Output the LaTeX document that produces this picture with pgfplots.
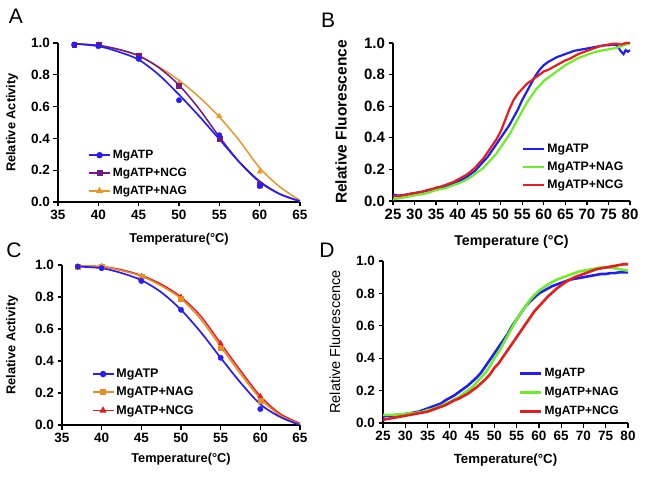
\documentclass[border=0pt]{standalone}
\usepackage{pgfplots}
\pgfplotsset{compat=1.18}
\usepackage{fontspec}
\setmainfont{Liberation Sans}
\definecolor{cblue}{RGB}{40,30,245}
\definecolor{cpurple}{RGB}{115,25,135}
\definecolor{corange}{RGB}{232,150,40}
\definecolor{corange2}{RGB}{232,140,35}
\definecolor{cred}{RGB}{228,30,30}
\definecolor{cgreen}{RGB}{110,238,40}
\definecolor{cbblue}{RGB}{30,30,245}
\begin{document}
\begin{tikzpicture}
\path (0pt,0pt) rectangle (645pt,477pt);
\pgfplotsset{
  myax/.style={scale only axis, axis x line*=bottom, axis y line*=left,
    axis line style={line width=1.4pt,-}, every tick/.style={line width=1.3pt,black},
    major tick length=4.5pt, tick align=outside, ymin=0, ymax=1,
    ytick={0,0.2,0.4,0.6,0.8,1.0},
    yticklabel style={/pgf/number format/fixed,/pgf/number format/fixed zerofill,/pgf/number format/precision=1},
    /pgf/number format/assume math mode=true,
    legend style={draw=none, fill=none, anchor=north west, row sep=4pt, inner sep=1pt},
    legend image code/.code={\draw[mark repeat=2,mark phase=2,##1] plot coordinates {(0cm,0cm)(0.37cm,0cm)(0.74cm,0cm)};},
    legend cell align=left, clip=false},
}
% ---------------- A ----------------
\begin{axis}[myax, at={(58pt,275pt)}, anchor=south west, width=242pt, height=159pt,
  xmin=35, xmax=65, xtick={35,40,45,50,55,60,65},
  ticklabel style={font=\bfseries\fontsize{13.5}{15}\selectfont},
  xlabel={Temperature(°C)}, ylabel={Relative Activity},
  label style={font=\bfseries\fontsize{12.8}{14}\selectfont},
  xlabel style={at={(axis description cs:0.5,-0.233)}, anchor=center},
  ylabel style={at={(axis description cs:-0.19,0.5)}, anchor=center},
  legend style={at={(axis description cs:0.12,0.345)}, font=\bfseries\fontsize{12}{14}\selectfont}]
\addlegendimage{cblue, line width=1.6pt, mark=*, mark size=2.4pt}
\addlegendentry{MgATP}
\addlegendimage{cpurple, line width=1.6pt, mark=square*, mark size=2.2pt}
\addlegendentry{MgATP+NCG}
\addlegendimage{corange, line width=1.6pt, mark=triangle*, mark size=2.6pt}
\addlegendentry{MgATP+NAG}
\addplot[corange, line width=1.5pt, smooth, forget plot] coordinates {(37,0.995)(40,0.985)(42.5,0.96)(45,0.92)(47.5,0.85)(50,0.765)(52.5,0.66)(55,0.535)(57.5,0.385)(60,0.215)(62.5,0.095)(65,0.01)};
\addplot[cpurple, line width=1.5pt, smooth, forget plot] coordinates {(37,0.995)(40,0.985)(42.5,0.96)(45,0.92)(47.5,0.845)(50,0.735)(52.5,0.585)(55,0.41)(57.5,0.25)(60,0.125)(62.5,0.05)(65,0.005)};
\addplot[cblue, line width=1.7pt, smooth, forget plot] coordinates {(37,0.995)(40,0.98)(42.5,0.945)(45,0.895)(47.5,0.80)(50,0.675)(52.5,0.54)(55,0.395)(57.5,0.25)(60,0.13)(62.5,0.05)(65,0.005)};
\addplot[only marks, corange, mark=triangle*, mark size=3pt, forget plot] coordinates {(37,0.99)(40,0.99)(45,0.92)(50,0.75)(55,0.54)(60,0.19)};
\addplot[only marks, cpurple, mark=square*, mark size=2.4pt, forget plot] coordinates {(37,0.99)(40,0.99)(45,0.92)(50,0.73)(55,0.40)(60,0.11)};
\addplot[only marks, cblue, mark=*, mark size=2.7pt, forget plot] coordinates {(37,0.99)(40,0.98)(45,0.90)(50,0.64)(55,0.42)(60,0.10)};
\end{axis}
% ---------------- B ----------------
\begin{axis}[myax, at={(393pt,276pt)}, anchor=south west, width=237pt, height=158pt,
  xmin=25, xmax=80, xtick={25,30,...,80},
  ticklabel style={font=\bfseries\fontsize{15}{16}\selectfont},
  xlabel={Temperature (°C)}, ylabel={Relative Fluorescence},
  xlabel style={font=\bfseries\fontsize{14.2}{16}\selectfont, at={(axis description cs:0.5,-0.26)}, anchor=center},
  ylabel style={font=\bfseries\fontsize{15.5}{17}\selectfont, at={(axis description cs:-0.219,0.5)}, anchor=center},
  legend style={at={(axis description cs:0.54,0.38)}, font=\bfseries\fontsize{12.3}{13}\selectfont, row sep=4pt}]
\addplot[cbblue, line width=2.2pt] coordinates {(25,0.04)(26,0.035)(27,0.036)(28,0.04)(29,0.046)(30,0.05)(31,0.055)(32,0.06)(33,0.066)(34,0.07)(35,0.08)(36,0.084)(37,0.09)(38,0.10)(39,0.11)(40,0.12)(41,0.135)(42,0.15)(43,0.17)(44,0.19)(45,0.22)(46,0.25)(47,0.28)(48,0.32)(49,0.36)(50,0.40)(51,0.44)(52,0.48)(53,0.53)(54,0.58)(55,0.64)(56,0.69)(57,0.74)(58,0.79)(59,0.83)(60,0.86)(61,0.88)(62,0.895)(63,0.91)(64,0.92)(65,0.93)(66,0.94)(67,0.95)(68,0.955)(69,0.96)(70,0.965)(71,0.97)(72,0.975)(73,0.98)(74,0.985)(75,0.985)(76,0.99)(77,0.985)(77.8,0.95)(78.5,0.93)(79,0.955)(79.5,0.945)(80,0.955)};
\addlegendentry{MgATP}
\addplot[cgreen, line width=2.2pt] coordinates {(25,0.01)(26,0.015)(27,0.02)(28,0.025)(29,0.03)(30,0.035)(31,0.04)(32,0.045)(33,0.05)(34,0.06)(35,0.07)(36,0.075)(37,0.08)(38,0.09)(39,0.10)(40,0.11)(41,0.12)(42,0.135)(43,0.15)(44,0.17)(45,0.19)(46,0.21)(47,0.24)(48,0.27)(49,0.30)(50,0.34)(51,0.38)(52,0.42)(53,0.47)(54,0.52)(55,0.57)(56,0.62)(57,0.66)(58,0.70)(59,0.73)(60,0.76)(61,0.78)(62,0.80)(63,0.82)(64,0.84)(65,0.86)(66,0.875)(67,0.89)(68,0.905)(69,0.915)(70,0.925)(71,0.935)(72,0.945)(73,0.95)(74,0.955)(75,0.96)(76,0.965)(77,0.97)(78,0.98)(79,0.99)(80,1.0)};
\addlegendentry{MgATP+NAG}
\addplot[cred, line width=2.2pt] coordinates {(25,0.03)(26,0.03)(27,0.035)(28,0.04)(29,0.045)(30,0.05)(31,0.055)(32,0.06)(33,0.07)(34,0.075)(35,0.085)(36,0.09)(37,0.10)(38,0.11)(39,0.12)(40,0.135)(41,0.15)(42,0.165)(43,0.185)(44,0.21)(45,0.24)(46,0.27)(47,0.31)(48,0.35)(49,0.39)(50,0.44)(51,0.51)(52,0.58)(53,0.64)(54,0.68)(55,0.71)(56,0.74)(57,0.76)(58,0.78)(59,0.80)(60,0.82)(61,0.83)(62,0.845)(63,0.86)(64,0.875)(65,0.89)(66,0.90)(67,0.915)(68,0.93)(69,0.94)(70,0.95)(71,0.96)(72,0.97)(73,0.98)(74,0.985)(75,0.99)(76,0.995)(77,0.995)(78,0.99)(79,1.0)(80,1.0)};
\addlegendentry{MgATP+NCG}
\end{axis}
% ---------------- C ----------------
\begin{axis}[myax, at={(62pt,52pt)}, anchor=south west, width=238pt, height=160pt,
  xmin=35, xmax=65, xtick={35,40,45,50,55,60,65},
  ticklabel style={font=\bfseries\fontsize{13.5}{15}\selectfont},
  xlabel={Temperature(°C)}, ylabel={Relative Activity},
  label style={font=\bfseries\fontsize{12.8}{14}\selectfont},
  xlabel style={at={(axis description cs:0.5,-0.2125)}, anchor=center},
  ylabel style={at={(axis description cs:-0.21,0.5)}, anchor=center},
  legend style={at={(axis description cs:0.12,0.37)}, font=\bfseries\fontsize{12.5}{14}\selectfont}]
\addlegendimage{cblue, line width=1.6pt, mark=*, mark size=2.4pt}
\addlegendentry{MgATP}
\addlegendimage{corange2, line width=1.6pt, mark=square*, mark size=2.2pt}
\addlegendentry{MgATP+NAG}
\addlegendimage{cred, line width=1.6pt, mark=triangle*, mark size=2.6pt}
\addlegendentry{MgATP+NCG}
\addplot[cred, line width=1.5pt, smooth, forget plot] coordinates {(37,0.995)(40,0.99)(42.5,0.97)(45,0.935)(47.5,0.88)(50,0.80)(52.5,0.68)(55,0.51)(57.5,0.34)(60,0.18)(62.5,0.07)(65,0.01)};
\addplot[corange2, line width=1.5pt, smooth, forget plot] coordinates {(37,0.995)(40,0.99)(42.5,0.965)(45,0.93)(47.5,0.87)(50,0.79)(52.5,0.66)(55,0.49)(57.5,0.32)(60,0.165)(62.5,0.06)(65,0.005)};
\addplot[cblue, line width=1.7pt, smooth, forget plot] coordinates {(37,0.99)(40,0.98)(42.5,0.95)(45,0.905)(47.5,0.83)(50,0.72)(52.5,0.58)(55,0.42)(57.5,0.265)(60,0.13)(62.5,0.05)(65,0.0)};
\addplot[only marks, cred, mark=triangle*, mark size=3pt, forget plot] coordinates {(37,0.99)(40,0.99)(45,0.93)(50,0.80)(55,0.51)(60,0.18)};
\addplot[only marks, corange2, mark=square*, mark size=2.4pt, forget plot] coordinates {(37,0.99)(40,0.99)(45,0.93)(50,0.79)(55,0.48)(60,0.15)};
\addplot[only marks, cblue, mark=*, mark size=2.7pt, forget plot] coordinates {(37,0.99)(40,0.98)(45,0.90)(50,0.72)(55,0.42)(60,0.10)};
\end{axis}
% ---------------- D ----------------
\begin{axis}[myax, at={(383pt,54pt)}, anchor=south west, width=245pt, height=162pt,
  xmin=25, xmax=80, xtick={25,30,...,80},
  ticklabel style={font=\bfseries\fontsize{13.5}{15}\selectfont},
  xlabel={Temperature(°C)}, ylabel={Relative Fluorescence},
  xlabel style={font=\bfseries\fontsize{13.3}{15}\selectfont, at={(axis description cs:0.5,-0.228)}, anchor=center},
  ylabel style={font=\fontsize{14.5}{16}\selectfont, at={(axis description cs:-0.196,0.5)}, anchor=center},
  legend style={at={(axis description cs:0.55,0.355)}, font=\bfseries\fontsize{12}{14}\selectfont, row sep=5pt}]
\addplot[cbblue, line width=2.6pt] coordinates {(25,0.04)(26,0.045)(27,0.045)(28,0.05)(29,0.05)(30,0.055)(31,0.06)(32,0.065)(33,0.07)(34,0.08)(35,0.09)(36,0.10)(37,0.11)(38,0.12)(39,0.14)(40,0.155)(41,0.17)(42,0.19)(43,0.21)(44,0.23)(45,0.255)(46,0.28)(47,0.31)(48,0.35)(49,0.39)(50,0.43)(51,0.47)(52,0.51)(53,0.55)(54,0.60)(55,0.64)(56,0.68)(57,0.72)(58,0.75)(59,0.775)(60,0.80)(61,0.815)(62,0.83)(63,0.845)(64,0.855)(65,0.865)(66,0.875)(67,0.885)(68,0.89)(69,0.895)(70,0.90)(71,0.905)(72,0.91)(73,0.915)(74,0.92)(75,0.92)(76,0.925)(77,0.925)(78,0.93)(79,0.93)(80,0.93)};
\addlegendentry{MgATP}
\addplot[cgreen, line width=2.6pt] coordinates {(25,0.05)(26,0.05)(27,0.05)(28,0.05)(29,0.055)(30,0.055)(31,0.06)(32,0.06)(33,0.065)(34,0.07)(35,0.08)(36,0.085)(37,0.095)(38,0.105)(39,0.12)(40,0.13)(41,0.145)(42,0.16)(43,0.18)(44,0.20)(45,0.22)(46,0.25)(47,0.28)(48,0.31)(49,0.35)(50,0.40)(51,0.44)(52,0.49)(53,0.54)(54,0.59)(55,0.64)(56,0.68)(57,0.72)(58,0.76)(59,0.79)(60,0.815)(61,0.835)(62,0.855)(63,0.87)(64,0.885)(65,0.895)(66,0.905)(67,0.915)(68,0.925)(69,0.935)(70,0.94)(71,0.945)(72,0.95)(73,0.955)(74,0.96)(75,0.96)(76,0.96)(77,0.955)(78,0.95)(79,0.945)(80,0.94)};
\addlegendentry{MgATP+NAG}
\addplot[cred, line width=2.6pt] coordinates {(25,0.02)(26,0.025)(27,0.03)(28,0.035)(29,0.04)(30,0.045)(31,0.05)(32,0.055)(33,0.06)(34,0.065)(35,0.07)(36,0.08)(37,0.09)(38,0.10)(39,0.11)(40,0.125)(41,0.14)(42,0.15)(43,0.165)(44,0.18)(45,0.20)(46,0.22)(47,0.245)(48,0.27)(49,0.30)(50,0.34)(51,0.37)(52,0.41)(53,0.45)(54,0.49)(55,0.53)(56,0.57)(57,0.61)(58,0.65)(59,0.69)(60,0.72)(61,0.75)(62,0.78)(63,0.805)(64,0.83)(65,0.85)(66,0.87)(67,0.885)(68,0.90)(69,0.91)(70,0.92)(71,0.93)(72,0.94)(73,0.95)(74,0.955)(75,0.96)(76,0.965)(77,0.97)(78,0.975)(79,0.98)(80,0.98)};
\addlegendentry{MgATP+NCG}
\end{axis}
% panel letters
\node[font=\fontsize{21}{24}\selectfont] at (16pt,461pt) {A};
\node[font=\fontsize{21}{24}\selectfont] at (328pt,457pt) {B};
\node[font=\fontsize{21}{24}\selectfont] at (14pt,227pt) {C};
\node[font=\fontsize{21}{24}\selectfont] at (327pt,227pt) {D};
\end{tikzpicture}
\end{document}
